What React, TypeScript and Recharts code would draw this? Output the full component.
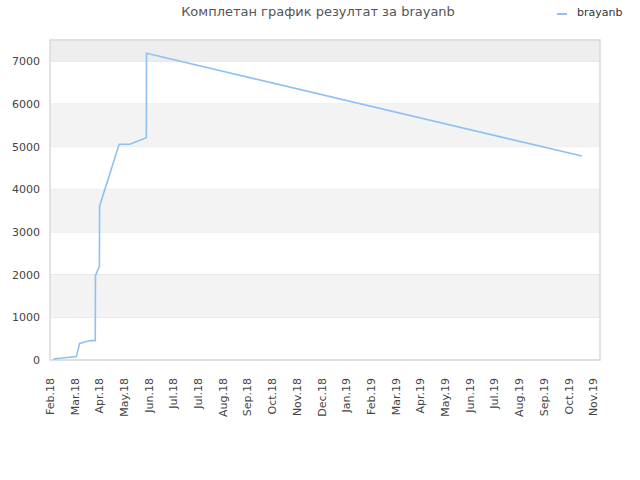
import React from "react";
import {
  LineChart,
  Line,
  XAxis,
  YAxis,
  CartesianGrid,
  ReferenceArea,
} from "recharts";

// days since the first tick (Feb.18), cumulative result
const days = [4, 12, 32, 36, 49, 55, 55.2, 60, 60.2, 84, 97, 117, 117.2, 646];
const values = [20, 40, 80, 390, 455, 455, 1975, 2195, 3605, 5055, 5055, 5212, 7188, 4780];

const tickDays = [0, 30, 60, 90, 120, 150, 180, 210, 240, 270, 300, 330, 360, 390, 420, 450, 480, 510, 540, 570, 600, 630, 660];
const tickLabels = [
  "Feb.18", "Mar.18", "Apr.18", "May.18", "Jun.18", "Jul.18", "Jul.18", "Aug.18",
  "Sep.18", "Oct.18", "Nov.18", "Dec.18", "Jan.19", "Feb.19", "Mar.19", "Apr.19",
  "May.19", "Jun.19", "Jul.19", "Aug.19", "Sep.19", "Oct.19", "Nov.19",
];
const yTicks = [0, 1000, 2000, 3000, 4000, 5000, 6000, 7000];
const shadedBands = [
  [1000, 2000],
  [3000, 4000],
  [5000, 6000],
];
const topBand = [7000, 7500];

const seriesName = "brayanb";
const title = "Комплетан график резултат за brayanb";

const data = days.map((d, i) => ({ day: d, value: values[i] }));

const FONT = "'DejaVu Sans', sans-serif";
const LINE_COLOR = "#8fc1f3";

const XTick = (props: any) => {
  const { x, y, payload } = props;
  const idx = tickDays.indexOf(payload.value);
  const label = idx >= 0 ? tickLabels[idx] : "";
  return (
    <text
      x={x}
      y={y}
      transform={`rotate(-90, ${x}, ${y})`}
      textAnchor="end"
      dy="0.35em"
      fontSize={11}
      fontFamily={FONT}
      fill="#444"
    >
      {label}
    </text>
  );
};

export default function App() {
  return (
    <div style={{ position: "absolute", left: 0, top: 0, width: 640, height: 480, background: "#fff" }}>
      <div
        style={{
          position: "absolute",
          left: 0,
          top: 4,
          width: 636,
          textAlign: "center",
          fontFamily: FONT,
          fontSize: 13,
          color: "#555",
        }}
      >
        {title}
      </div>
      <div
        style={{
          position: "absolute",
          left: 556,
          top: 6,
          display: "flex",
          alignItems: "center",
          fontFamily: FONT,
          fontSize: 11,
          color: "#333",
          zIndex: 2,
        }}
      >
        <svg width={12} height={10} style={{ marginRight: 9 }}>
          <line x1={1} y1={6} x2={11} y2={6} stroke={LINE_COLOR} strokeWidth={2} />
        </svg>
        <span>{seriesName}</span>
      </div>
      <LineChart
        width={640}
        height={480}
        data={data}
        margin={{ top: 40, right: 40, bottom: 60, left: 0 }}
      >
        {shadedBands.map((b, i) => (
          <ReferenceArea key={i} y1={b[0]} y2={b[1]} fill="#f3f3f3" fillOpacity={1} stroke="none" />
        ))}
        <ReferenceArea y1={topBand[0]} y2={topBand[1]} fill="#eeeeee" fillOpacity={1} stroke="none" />
        <CartesianGrid vertical={false} stroke="#e2e2e2" />
        <ReferenceArea y1={0} y2={7500} fill="none" stroke="#dadada" strokeWidth={1.5} />
        <XAxis
          type="number"
          dataKey="day"
          domain={[0, 668]}
          ticks={tickDays}
          tick={<XTick />}
          tickLine={false}
          axisLine={false}
          tickMargin={12}
          height={60}
          interval={0}
          allowDataOverflow
        />
        <YAxis
          type="number"
          domain={[0, 7500]}
          ticks={yTicks}
          width={50}
          tickLine={false}
          axisLine={false}
          tickSize={0}
          tickMargin={10}
          tick={{ fontSize: 11, fill: "#444", fontFamily: FONT }}
          allowDataOverflow
        />
        <Line
          type="linear"
          dataKey="value"
          name={seriesName}
          stroke={LINE_COLOR}
          strokeWidth={1.6}
          dot={false}
          isAnimationActive={false}
        />
      </LineChart>
    </div>
  );
}
